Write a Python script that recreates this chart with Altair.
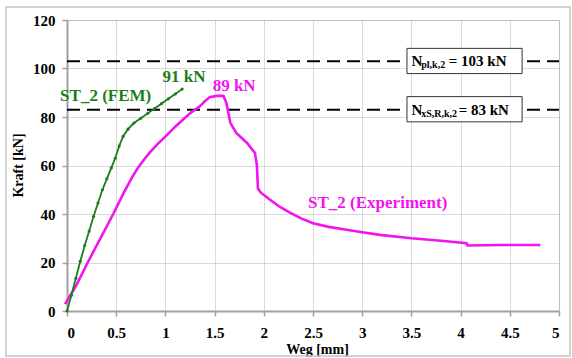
import altair as alt
import pandas as pd

# ---- data ----
fem_x = [0, 0.045, 0.09, 0.135, 0.18, 0.225, 0.27, 0.315, 0.36, 0.405, 0.45, 0.49,
         0.53, 0.57, 0.62, 0.68, 0.75, 0.82, 0.89, 0.96, 1.03, 1.1, 1.17]
fem_y = [0, 6.5, 13.5, 20.5, 27, 33, 39, 44.5, 50, 54.5, 59, 63,
         68, 72, 75, 77.5, 79.5, 81.5, 83.5, 85.5, 87.5, 89.5, 91.5]

exp_x = [-0.02, 0.1, 0.21, 0.34, 0.47, 0.58, 0.66, 0.72, 0.78, 0.84, 0.92, 1.01, 1.1, 1.18,
         1.26, 1.35, 1.4, 1.45, 1.52, 1.59, 1.62, 1.66, 1.72, 1.83, 1.91, 1.93, 1.94,
         1.97, 2.06, 2.16, 2.27, 2.38, 2.5, 2.66, 2.84, 3.0, 3.18, 3.5, 3.8, 4.06,
         4.07, 4.4, 4.81]
exp_y = [2.8, 11, 20, 30, 40, 49, 55, 59, 62.3, 65.3, 68.8, 72.3, 76, 79,
         81.8, 84.4, 86.5, 88.2, 88.7, 88.7, 85.8, 77.6, 73.4, 69.3, 65.2, 60, 50.5,
         48.8, 46, 43, 40.5, 38.2, 36.2, 34.7, 33.5, 32.5, 31.4, 30, 29, 28,
         27, 27.2, 27.2]

ref_levels = [103, 83]
ref_main = ["N", "N"]
ref_sub = ["pl,k,2", "xS,R,k,2"]
ref_rest = ["= 103 kN", "= 83 kN"]

x_ticks = [0, 0.5, 1, 1.5, 2, 2.5, 3, 3.5, 4, 4.5, 5]
y_ticks = [0, 20, 40, 60, 80, 100, 120]

GREEN = "#1c7d1c"
MAGENTA = "#f014f0"
FONT = "Liberation Serif, Times New Roman, serif"

fem = pd.DataFrame({"x": fem_x, "y": fem_y})
exp = pd.DataFrame({"x": exp_x, "y": exp_y, "idx": list(range(len(exp_x)))})

xs = alt.Scale(domain=[0, 5], nice=False, zero=False)
ys = alt.Scale(domain=[0, 120], nice=False)

X = alt.X("x:Q", scale=xs, title="Weg [mm]",
          axis=alt.Axis(values=x_ticks, format="~g", titleX=250, titleY=38,
                        titleBaseline="middle", titleAlign="center"))
Y = alt.Y("y:Q", scale=ys, title="Kraft [kN]",
          axis=alt.Axis(values=y_ticks, titleX=-49, titleY=145, titleAngle=-90,
                        titleBaseline="middle", titleAlign="center"))

base_df = pd.DataFrame({"x": [0], "y": [0]})

# outer figure frame
frame = alt.Chart(base_df).mark_rect(fill="transparent", stroke="#c4c4c4", strokeWidth=1.5).encode(
    x=alt.value(-61), x2=alt.value(503), y=alt.value(-13), y2=alt.value(336))

# invisible layer carrying the axes
axes = alt.Chart(base_df).mark_point(opacity=0).encode(x=X, y=Y)

refs = pd.DataFrame({"y": ref_levels, "x0": [0, 0], "x1": [5, 5],
                     "main": ref_main, "sub": ref_sub, "rest": ref_rest,
                     "bx0": [3.455, 3.455], "bx1": [4.625, 4.625],
                     "by0": [97.9, 78.0], "by1": [108.3, 88.4],
                     "tx0": [3.50, 3.50], "tx1": [3.60, 3.60], "tx2": [3.88, 3.98]})
rules = alt.Chart(refs).mark_rule(color="black", strokeWidth=2, strokeDash=[13, 7]).encode(
    x=alt.X("x0:Q", scale=xs), x2="x1:Q", y=alt.Y("y:Q", scale=ys))
boxes = alt.Chart(refs).mark_rect(fill="white", stroke="#333", strokeWidth=1).encode(
    x=alt.X("bx0:Q", scale=xs), x2="bx1:Q", y=alt.Y("by0:Q", scale=ys), y2="by1:Q")
t_main = alt.Chart(refs).mark_text(font=FONT, fontWeight="bold", fontSize=15, align="left",
                                   baseline="middle", color="black").encode(
    x=alt.X("tx0:Q", scale=xs), y=alt.Y("y:Q", scale=ys), text="main:N")
t_sub = alt.Chart(refs).mark_text(font=FONT, fontWeight="bold", fontSize=10, align="left",
                                  baseline="middle", color="black", dy=4).encode(
    x=alt.X("tx1:Q", scale=xs), y=alt.Y("y:Q", scale=ys), text="sub:N")
t_rest = alt.Chart(refs).mark_text(font=FONT, fontWeight="bold", fontSize=15, align="left",
                                   baseline="middle", color="black").encode(
    x=alt.X("tx2:Q", scale=xs), y=alt.Y("y:Q", scale=ys), text="rest:N")

exp_line = alt.Chart(exp).mark_line(color=MAGENTA, strokeWidth=2.6, clip=False).encode(
    x=alt.X("x:Q", scale=xs), y=alt.Y("y:Q", scale=ys), order="idx:Q")
fem_line = alt.Chart(fem).mark_line(color=GREEN, strokeWidth=1.8,
                                    point=alt.OverlayMarkDef(filled=True, size=10, color=GREEN)).encode(
    x=alt.X("x:Q", scale=xs), y=alt.Y("y:Q", scale=ys))

labels = pd.DataFrame({
    "x": [-0.07, 0.97, 1.48, 2.45],
    "y": [88.5, 96.5, 92.8, 44.5],
    "t": ["ST_2 (FEM)", "91 kN", "89 kN", "ST_2 (Experiment)"],
    "c": [GREEN, GREEN, MAGENTA, MAGENTA],
})
lab = alt.Chart(labels).mark_text(font=FONT, fontWeight="bold", fontSize=17, align="left",
                                  baseline="middle").encode(
    x=alt.X("x:Q", scale=xs), y=alt.Y("y:Q", scale=ys), text="t:N",
    color=alt.Color("c:N", scale=None))

chart = alt.layer(axes, frame, rules, boxes, t_main, t_sub, t_rest, exp_line, fem_line, lab).properties(
    width=492, height=291,
    autosize=alt.AutoSizeParams(type="none"),
    padding={"left": 67, "top": 20, "right": 13, "bottom": 47},
    background="white",
).configure_view(stroke="#c8c8c8", strokeWidth=1).configure_axis(
    labelFont=FONT, labelFontSize=15, labelFontWeight="bold", labelColor="black",
    titleFont=FONT, titleFontSize=14, titleFontWeight="bold", titleColor="black",
    domainColor="#a0a0a0", domainWidth=2, tickColor="#a0a0a0", tickSize=5, tickWidth=1.5,
    gridColor="#b4b4b4", gridDash=[1, 1], gridWidth=1,
).configure_axisX(labelPadding=9).configure_axisY(labelPadding=7)

chart.save("out.html", embed_options={"renderer": "svg", "actions": False})
